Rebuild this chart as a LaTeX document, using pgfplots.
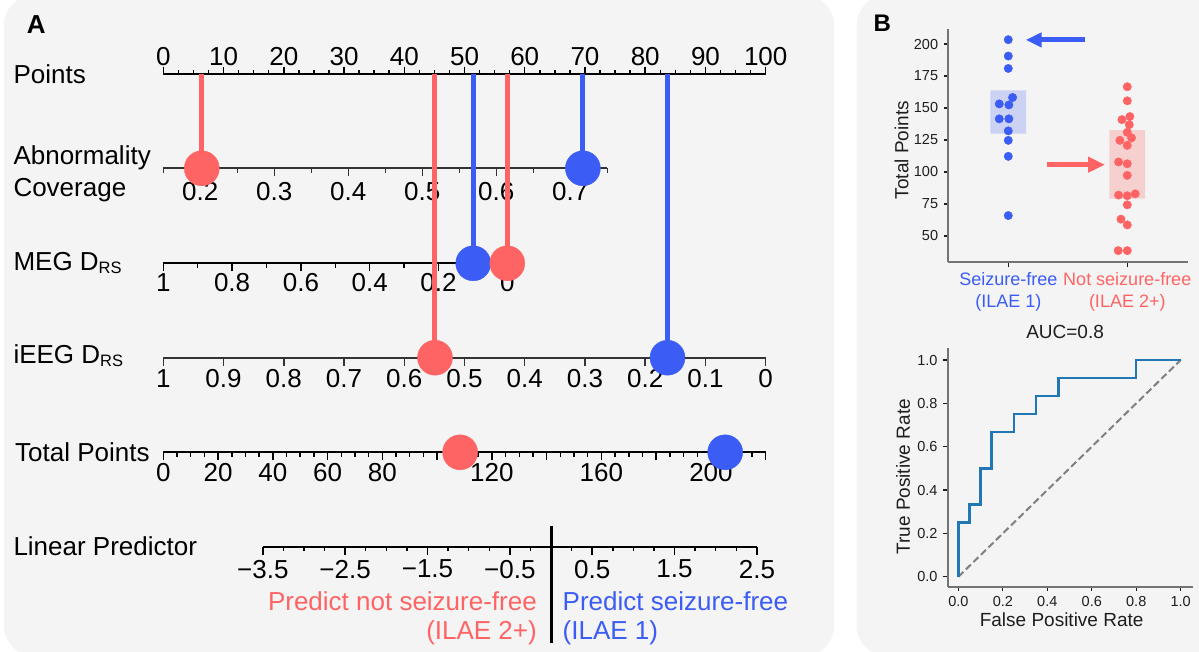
\documentclass[border=0pt]{standalone}
\usepackage{pgfplots}
\pgfplotsset{compat=1.18}
\usepackage{fontspec}
\setmainfont{Liberation Sans}
\usetikzlibrary{arrows.meta}

\definecolor{sfred}{RGB}{255,100,100}
\definecolor{sfblue}{RGB}{59,92,245}
\definecolor{panelbg}{RGB}{244,244,244}
\definecolor{rocblue}{RGB}{31,119,180}
\definecolor{spine}{RGB}{115,115,115}
\definecolor{txt}{RGB}{30,30,30}

\newcommand{\fA}{\fontsize{26}{30}\selectfont}
\newcommand{\fB}{\fontsize{19}{23}\selectfont}
\newcommand{\fT}{\fontsize{14.5}{17}\selectfont}
\newcommand{\fC}{\fontsize{18}{21.7}\selectfont}
\newcommand{\sub}[1]{\raisebox{-3.5pt}{\fontsize{16.5}{17}\selectfont #1}}

\pgfplotsset{
  nomo/.style={
    scale only axis, clip=false,
    axis y line=none,
    axis line style={-, line width=1.8pt, black},
    major tick length=8pt, minor tick length=4.3pt,
    tick style={line width=1.5pt, black},
    xticklabel style={font=\fA, inner sep=0pt},
    ymin=0,
  },
  xline/.style={axis x line=#1, xtick align=outside, x axis line style={-}},
  dot/.style={only marks, mark=*, mark size=17.5pt, mark options={draw=none}},
  stem/.style={line width=5pt},
  panelb/.style={
    scale only axis, clip=false,
    axis x line=bottom, axis y line=left,
    axis line style={-, line width=2.2pt, spine},
    x axis line style={-}, y axis line style={-},
    tick align=outside, major tick length=4.5pt,
    tick style={line width=1.3pt, txt},
    yticklabel style={font=\fT, text=txt, inner sep=0pt, xshift=-5.5pt},
  },
}

\begin{document}
\begin{tikzpicture}[every node/.append style={inner sep=0pt}]
\useasboundingbox (0,0) rectangle (1199pt,-651pt);
\fill[panelbg, rounded corners=30pt] (4pt,5pt) rectangle (834pt,-656pt);
\fill[panelbg, rounded corners=30pt] (856.7pt,5pt) rectangle (1240pt,-656pt);

% ---- panel A: nomogram ----
\node[anchor=base west, font=\bfseries\fA] at (26.7pt,-33.3pt) {A};
\node[anchor=base west, font=\fA] at (13.3pt,-83.3pt) {Points};
\node[anchor=base west, font=\fA] at (13.3pt,-164.3pt) {Abnormality};
\node[anchor=base west, font=\fA] at (13.3pt,-196pt) {Coverage};
\node[anchor=base west, font=\fA] at (13.3pt,-270pt) {MEG D\sub{RS}};
\node[anchor=base west, font=\fA] at (13.3pt,-363.3pt) {iEEG D\sub{RS}};
\node[anchor=base west, font=\fA] at (15pt,-461.7pt) {Total Points};
\node[anchor=base west, font=\fA] at (13.3pt,-555pt) {Linear Predictor};

% Points scale
\begin{axis}[nomo, at={(163.3pt,-74pt)}, anchor=north west,
  width=602.4pt, height=10pt, ymax=10, xmin=0, xmax=100,
  xline=top, major tick length=7.3pt, minor tick length=4pt,
  xtick={0,10,...,100}, xticklabels={0,10,20,30,40,50,60,70,80,90,100},
  minor tick num=3, xticklabel style={yshift=1pt}]
\end{axis}

% Abnormality coverage
\begin{axis}[nomo, at={(163.3pt,-168.3pt)}, anchor=south west,
  width=444pt, height=94.3pt, ymax=94.3, xmin=0.15, xmax=0.75,
  xline=bottom, axis line style={black!80}, tick style={black!80},
  xtick={0.2,0.3,0.4,0.5,0.6,0.7}, xticklabels={0.2,0.3,0.4,0.5,0.6,0.7},
  minor xtick={0.15,0.25,0.35,0.45,0.55,0.65,0.75},
  xticklabel style={yshift=-6pt}]
\addplot[stem, sfred] coordinates {(0.202,0) (0.202,94.3)};
\addplot[stem, sfblue] coordinates {(0.717,0) (0.717,94.3)};
\addplot[dot, sfred] coordinates {(0.202,0)};
\addplot[dot, sfblue] coordinates {(0.717,0)};
\end{axis}

% MEG D_RS
\begin{axis}[nomo, at={(163.3pt,-263.3pt)}, anchor=south west,
  width=344pt, height=189.3pt, ymax=189.3, xmin=0, xmax=1, x dir=reverse,
  xline=bottom,
  xtick={0,0.2,0.4,0.6,0.8,1}, xticklabels={0,0.2,0.4,0.6,0.8,1},
  minor tick num=1, xticklabel style={yshift=-2pt}]
\addplot[stem, sfblue] coordinates {(0.099,0) (0.099,189.3)};
\addplot[stem, sfred] coordinates {(0,0) (0,189.3)};
\addplot[dot, sfblue] coordinates {(0.099,0)};
\addplot[dot, sfred] coordinates {(0,0)};
\end{axis}

% iEEG D_RS
\begin{axis}[nomo, at={(163.3pt,-357.7pt)}, anchor=south west,
  width=602.4pt, height=283.7pt, ymax=283.7, xmin=0, xmax=1, x dir=reverse,
  xline=bottom, axis line style={black!80}, tick style={black!80},
  xtick={0,0.1,0.2,0.3,0.4,0.5,0.6,0.7,0.8,0.9,1},
  xticklabels={0,0.1,0.2,0.3,0.4,0.5,0.6,0.7,0.8,0.9,1},
  xticklabel style={yshift=-3.3pt}]
\addplot[stem, sfred] coordinates {(0.549,0) (0.549,283.7)};
\addplot[stem, sfblue] coordinates {(0.163,0) (0.163,283.7)};
\addplot[dot, sfred] coordinates {(0.549,0)};
\addplot[dot, sfblue] coordinates {(0.163,0)};
\end{axis}

% Total points
\begin{axis}[nomo, at={(163.3pt,-452.3pt)}, anchor=south west,
  width=602.4pt, height=10pt, ymax=10, xmin=0, xmax=220,
  xline=bottom,
  xtick={0,20,...,220}, xticklabels={0,20,40,60,80,,120,,160,,200,},
  minor tick num=3, xticklabel style={yshift=-2.5pt}]
\addplot[dot, sfred] coordinates {(108.4,0)};
\addplot[dot, sfblue] coordinates {(205.2,0)};
\end{axis}

% Linear predictor
\begin{axis}[nomo, at={(262.8pt,-546.7pt)}, anchor=south west,
  width=494.1pt, height=10pt, ymax=10, xmin=-3.5, xmax=2.5,
  xline=bottom,
  xtick={-3.5,-2.5,-1.5,-0.5,0.5,1.5,2.5},
  xticklabels={−3.5,−2.5,−1.5,−0.5,0.5,1.5,2.5},
  minor tick num=3, xticklabel style={yshift=-5pt}]
\addplot[black, line width=3pt] coordinates {(0,20.7) (0,-96.3)};
\end{axis}

\node[anchor=base east, font=\fA, text=sfred] at (537pt,-610pt) {Predict not seizure-free};
\node[anchor=base east, font=\fA, text=sfred] at (537pt,-639.3pt) {(ILAE 2+)};
\node[anchor=base west, font=\fA, text=sfblue] at (562.5pt,-610pt) {Predict seizure-free};
\node[anchor=base west, font=\fA, text=sfblue] at (562.5pt,-639.3pt) {(ILAE 1)};

% ---- panel B ----
\node[anchor=base west, font=\bfseries\fontsize{24}{28}\selectfont] at (873.3pt,-31.7pt) {B};

\begin{axis}[panelb, at={(948.3pt,-262pt)}, anchor=south west,
  width=240pt, height=232.7pt,
  xmin=-0.504, xmax=1.513, ymin=29.6, ymax=211.5,
  xtick={0,1},
  xticklabels={{\textcolor{sfblue}{Seizure-free}\\\textcolor{sfblue}{(ILAE 1)}},
               {\textcolor{sfred}{Not seizure-free}\\\textcolor{sfred}{(ILAE 2+)}}},
  xticklabel style={align=center, font=\fC, inner sep=0pt, yshift=-6pt},
  ytick={50,75,100,125,150,175,200}, yticklabels={50,75,100,125,150,175,200},
  ylabel={Total Points},
  ylabel style={font=\fB, text=txt, at={(axis description cs:-0.1667,0.481)}, anchor=base, inner sep=0pt},
]
\addplot[draw=none, fill=sfblue, fill opacity=0.22]
  coordinates {(-0.15,130) (0.15,130) (0.15,163.7) (-0.15,163.7) (-0.15,130)};
\addplot[draw=none, fill=sfred, fill opacity=0.25]
  coordinates {(0.85,79.2) (1.15,79.2) (1.15,132.6) (0.85,132.6) (0.85,79.2)};
\addplot[only marks, mark=*, mark size=4.2pt, sfblue, mark options={draw=none}] coordinates {
  (0,203.4) (0,190.6) (0,180.9) (0.036,158.2) (-0.076,153.2) (0.005,152.4)
  (-0.076,141.5) (0.005,141.5) (0,132.1) (0,124.7) (0,112.2) (0,65.9)};
\addplot[only marks, mark=*, mark size=4.2pt, sfred, mark options={draw=none}] coordinates {
  (1,166.6) (1,155.6) (1.022,143.3) (0.955,140.9) (1.017,137.0) (1,131.0)
  (1.036,126.6) (0.938,124.7) (1,120.8) (0.927,107.8) (1,106.4) (1,97.3)
  (0.927,81.9) (1,81.4) (1.067,82.9) (1,74.3) (0.947,63.1) (1,58.6)
  (0.924,38.5) (1,38.5)};
\draw[sfblue, line width=5pt, -{Triangle[length=16pt, width=14pt]}]
  (axis cs:0.645,203.2) -- (axis cs:0.146,203.2);
\draw[sfred, line width=5pt, -{Triangle[length=17pt, width=15pt]}]
  (axis cs:0.323,105.7) -- (axis cs:0.813,105.7);
\end{axis}

\begin{axis}[panelb, at={(947.7pt,-586.7pt)}, anchor=south west,
  width=245pt, height=238.4pt,
  xmin=-0.048, xmax=1.054, ymin=-0.046, ymax=1.054,
  xtick={0,0.2,0.4,0.6,0.8,1}, xticklabels={0.0,0.2,0.4,0.6,0.8,1.0},
  ytick={0,0.2,0.4,0.6,0.8,1}, yticklabels={0.0,0.2,0.4,0.6,0.8,1.0},
  xticklabel style={font=\fT, text=txt, inner sep=0pt, yshift=-4.5pt},
  title={AUC=0.8},
  title style={font=\fB, text=txt, at={(axis description cs:0.479,1)}, anchor=base, yshift=4.3pt, inner sep=0pt},
  xlabel={False Positive Rate},
  xlabel style={font=\fB, text=txt, at={(axis description cs:0.465,-0.1678)}, anchor=base, inner sep=0pt},
  ylabel={True Positive Rate},
  ylabel style={font=\fB, text=txt, at={(axis description cs:-0.154,0.461)}, anchor=base, inner sep=0pt},
]
\addplot[gray, line width=2pt, dash pattern=on 7pt off 3.5pt] coordinates {(0,0) (1,1)};
\addplot[rocblue, line width=2.5pt] coordinates {
  (0,0) (0,0.25) (0.05,0.25) (0.05,0.333) (0.1,0.333) (0.1,0.5) (0.15,0.5)
  (0.15,0.667) (0.25,0.667) (0.25,0.75) (0.35,0.75) (0.35,0.833) (0.45,0.833)
  (0.45,0.917) (0.8,0.917) (0.8,1) (1,1)};
\end{axis}
\end{tikzpicture}
\end{document}
